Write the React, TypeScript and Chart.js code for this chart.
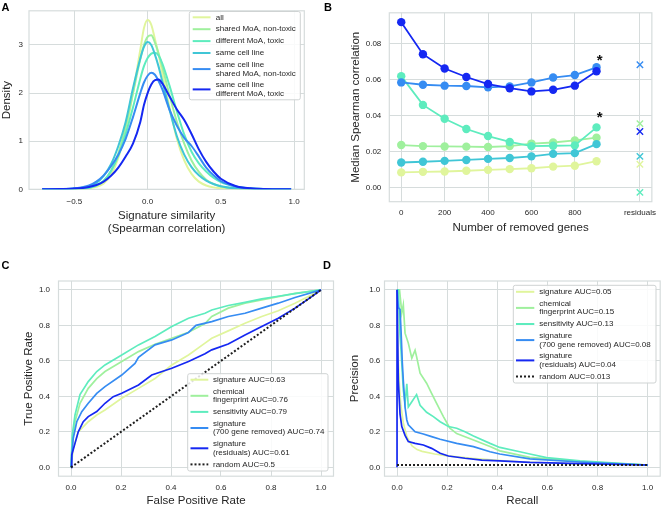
import React, { useEffect, useRef } from 'react';
import { Chart, registerables } from 'chart.js';

Chart.register(...registerables);

const FONT = "'Liberation Sans', Arial, Helvetica, sans-serif";
Chart.defaults.font.family = FONT;
Chart.defaults.color = '#262626';

const TEXT = '#262626';
const GRID = '#d6dcdc';
const COLORS = ['#e0f59c', '#9ff09d', '#5eecbe', '#40c6d6', '#368cf2', '#1528f2'];
const RANDOM_COLOR = '#1e1e1e';
const TICK_SIZE = 8;

// ---------------- Panel A : density of signature similarity ----------------
const KDE_X = [-0.72, -0.6, -0.5, -0.4, -0.35, -0.3, -0.25, -0.2, -0.15, -0.1, -0.05, -0.025, 0, 0.025, 0.05, 0.075, 0.1, 0.15, 0.2, 0.25, 0.3, 0.35, 0.4, 0.45, 0.5, 0.6, 0.7, 0.8, 0.98];
const KDE_ALL = [0, 0.001, 0.003, 0.02, 0.05, 0.12, 0.3, 0.65, 1.2, 2.0, 2.9, 3.35, 3.52, 3.42, 3.12, 2.8, 2.42, 1.7, 1.05, 0.6, 0.32, 0.16, 0.08, 0.04, 0.02, 0.005, 0.002, 0.001, 0];
const KDE_SHARED = [0, 0.001, 0.005, 0.03, 0.07, 0.17, 0.38, 0.75, 1.3, 2.0, 2.7, 3.0, 3.17, 3.2, 3.05, 2.82, 2.55, 1.95, 1.4, 0.95, 0.6, 0.36, 0.2, 0.11, 0.06, 0.015, 0.004, 0.001, 0];
const KDE_DIFF = [0, 0.001, 0.005, 0.03, 0.08, 0.18, 0.38, 0.7, 1.15, 1.7, 2.3, 2.56, 2.73, 2.82, 2.84, 2.78, 2.62, 2.15, 1.62, 1.14, 0.78, 0.54, 0.37, 0.24, 0.15, 0.06, 0.02, 0.005, 0];
const KDE_SAME = [0, 0.003, 0.015, 0.06, 0.13, 0.28, 0.52, 0.9, 1.4, 2.1, 2.72, 2.96, 3.06, 3.0, 2.8, 2.55, 2.25, 1.65, 1.1, 0.72, 0.46, 0.29, 0.18, 0.11, 0.065, 0.022, 0.007, 0.002, 0];
const KDE_SAME_SHARED = [0, 0.005, 0.02, 0.08, 0.16, 0.29, 0.48, 0.72, 1.05, 1.5, 2.0, 2.22, 2.36, 2.42, 2.38, 2.25, 2.08, 1.65, 1.32, 1.07, 0.9, 0.68, 0.45, 0.29, 0.17, 0.06, 0.02, 0.006, 0];
const KDE_SAME_DIFF = [0, 0.004, 0.015, 0.05, 0.09, 0.16, 0.28, 0.45, 0.68, 0.95, 1.4, 1.75, 2.0, 2.18, 2.27, 2.28, 2.2, 1.93, 1.66, 1.44, 1.15, 0.83, 0.57, 0.37, 0.22, 0.07, 0.02, 0.005, 0];
const A_LABELS = ['all', 'shared MoA, non-toxic', 'different MoA, toxic', 'same cell line', 'same cell line\nshared MoA, non-toxic', 'same cell line\ndifferent MoA, toxic'];
const A_X_TICKS = [-0.5, 0, 0.5, 1.0];
const A_Y_TICKS = [0, 1, 2, 3];

// ---------------- Panel B : median Spearman correlation ----------------
const GENES_REMOVED = [0, 100, 200, 300, 400, 500, 600, 700, 800, 900];
const MED_ALL = [0.0086, 0.0089, 0.0091, 0.0095, 0.0100, 0.0104, 0.0109, 0.0118, 0.0123, 0.0148];
const MED_SHARED = [0.0238, 0.0232, 0.0230, 0.0229, 0.0227, 0.0232, 0.0246, 0.0252, 0.0264, 0.0279];
const MED_DIFF = [0.0621, 0.0461, 0.0384, 0.0327, 0.0288, 0.0255, 0.0232, 0.0234, 0.0236, 0.0336];
const MED_SAME = [0.0141, 0.0145, 0.0150, 0.0155, 0.0161, 0.0166, 0.0175, 0.0189, 0.0193, 0.0243];
const MED_SAME_SHARED = [0.0586, 0.0573, 0.0568, 0.0566, 0.0559, 0.0564, 0.0586, 0.0613, 0.0627, 0.0670];
const MED_SAME_DIFF = [0.0921, 0.0743, 0.0663, 0.0616, 0.0577, 0.0554, 0.0536, 0.0545, 0.0568, 0.0648];
const RESIDUALS_X = 1100;
const MED_RESIDUALS = [0.0131, 0.0357, -0.0025, 0.0175, 0.0684, 0.0313];
const B_X_TICKS = [0, 200, 400, 600, 800, 1100];
const B_X_LABELS = ['0', '200', '400', '600', '800', 'residuals'];
const B_Y_TICKS = [0, 0.02, 0.04, 0.06, 0.08];
const STAR_X = [915, 915];
const STAR_Y = [0.0722, 0.0407];

// ---------------- Panel C : ROC ----------------
const ROC_SIG_FPR = [0, 0.009, 0.029, 0.069, 0.103, 0.136, 0.203, 0.27, 0.336, 0.403, 0.47, 0.536, 0.563, 0.629, 0.696, 0.763, 0.829, 0.896, 0.963, 1.0];
const ROC_SIG_TPR = [0, 0.107, 0.2, 0.257, 0.295, 0.323, 0.389, 0.445, 0.5, 0.577, 0.633, 0.7, 0.727, 0.769, 0.812, 0.85, 0.882, 0.925, 0.972, 1.0];
const ROC_CHEM_FPR = [0, 0.005, 0.016, 0.036, 0.069, 0.103, 0.136, 0.203, 0.27, 0.336, 0.403, 0.47, 0.536, 0.563, 0.629, 0.696, 0.763, 0.829, 0.896, 1.0];
const ROC_CHEM_TPR = [0, 0.15, 0.257, 0.361, 0.445, 0.5, 0.54, 0.596, 0.652, 0.694, 0.727, 0.761, 0.81, 0.85, 0.897, 0.925, 0.944, 0.962, 0.98, 1.0];
const ROC_SENS_FPR = [0, 0.005, 0.016, 0.036, 0.069, 0.103, 0.136, 0.203, 0.27, 0.336, 0.403, 0.47, 0.536, 0.563, 0.629, 0.696, 0.763, 0.829, 0.896, 1.0];
const ROC_SENS_TPR = [0, 0.18, 0.295, 0.41, 0.483, 0.54, 0.577, 0.633, 0.69, 0.737, 0.793, 0.84, 0.868, 0.887, 0.912, 0.93, 0.949, 0.964, 0.979, 1.0];
const ROC_700_FPR = [0, 0.009, 0.023, 0.043, 0.069, 0.103, 0.136, 0.203, 0.256, 0.27, 0.336, 0.403, 0.47, 0.5, 0.563, 0.629, 0.696, 0.763, 0.829, 0.896, 1.0];
const ROC_700_TPR = [0, 0.164, 0.257, 0.314, 0.361, 0.417, 0.455, 0.52, 0.586, 0.62, 0.69, 0.718, 0.76, 0.8, 0.821, 0.85, 0.868, 0.897, 0.925, 0.957, 1.0];
const ROC_RES_FPR = [0, 0.003, 0.016, 0.029, 0.049, 0.069, 0.103, 0.136, 0.169, 0.203, 0.27, 0.323, 0.403, 0.47, 0.536, 0.563, 0.629, 0.696, 0.763, 0.829, 0.896, 0.963, 1.0];
const ROC_RES_TPR = [0, 0.07, 0.135, 0.2, 0.257, 0.286, 0.314, 0.361, 0.398, 0.417, 0.464, 0.52, 0.558, 0.596, 0.64, 0.662, 0.695, 0.746, 0.793, 0.84, 0.897, 0.962, 1.0];
const ROC_RANDOM_FPR = [0, 1];
const ROC_RANDOM_TPR = [0, 1];
const C_LABELS = ['signature AUC=0.63', 'chemical\nfingerprint AUC=0.76', 'sensitivity AUC=0.79', 'signature\n(700 gene removed) AUC=0.74', 'signature\n(residuals) AUC=0.61', 'random AUC=0.5'];

// ---------------- Panel D : precision-recall ----------------
const PR_SIG_REC = [0, 0.005, 0.01, 0.015, 0.025, 0.04, 0.06, 0.08, 0.1, 0.15, 0.2, 0.3, 0.4, 0.5, 0.7, 1.0];
const PR_SIG_PREC = [1.0, 0.6, 0.45, 0.35, 0.25, 0.17, 0.12, 0.1, 0.09, 0.075, 0.065, 0.05, 0.04, 0.03, 0.02, 0.013];
const PR_CHEM_REC = [0, 0.01, 0.019, 0.025, 0.032, 0.045, 0.059, 0.072, 0.078, 0.092, 0.118, 0.138, 0.158, 0.185, 0.211, 0.238, 0.305, 0.371, 0.41, 0.53, 0.73, 1.0];
const PR_CHEM_PREC = [1.0, 1.0, 0.87, 0.915, 0.756, 0.70, 0.615, 0.66, 0.624, 0.53, 0.474, 0.417, 0.36, 0.286, 0.22, 0.19, 0.154, 0.117, 0.093, 0.056, 0.032, 0.013];
const PR_SENS_REC = [0, 0.005, 0.012, 0.019, 0.025, 0.032, 0.039, 0.045, 0.059, 0.078, 0.092, 0.118, 0.145, 0.172, 0.205, 0.238, 0.271, 0.305, 0.371, 0.41, 0.49, 0.53, 0.597, 0.73, 1.0];
const PR_SENS_PREC = [1.0, 1.0, 0.75, 0.586, 0.436, 0.36, 0.47, 0.34, 0.37, 0.41, 0.35, 0.31, 0.286, 0.257, 0.23, 0.22, 0.2, 0.177, 0.135, 0.112, 0.088, 0.075, 0.055, 0.036, 0.013];
const PR_700_REC = [0, 0.005, 0.012, 0.016, 0.021, 0.025, 0.032, 0.039, 0.045, 0.072, 0.105, 0.138, 0.172, 0.238, 0.305, 0.371, 0.41, 0.53, 0.73, 1.0];
const PR_700_PREC = [1.0, 0.9, 0.89, 0.77, 0.59, 0.49, 0.34, 0.267, 0.24, 0.2, 0.188, 0.173, 0.158, 0.135, 0.117, 0.088, 0.075, 0.048, 0.03, 0.013];
const PR_RES_REC = [0, 0, 0.005, 0.012, 0.019, 0.032, 0.045, 0.072, 0.105, 0.138, 0.172, 0.205, 0.271, 0.338, 0.41, 0.53, 0.73, 1.0];
const PR_RES_PREC = [0.0, 1.0, 0.49, 0.3, 0.23, 0.18, 0.145, 0.135, 0.126, 0.107, 0.079, 0.064, 0.051, 0.041, 0.036, 0.028, 0.021, 0.013];
const PR_RANDOM_REC = [0, 1];
const PR_RANDOM_PREC = [0.013, 0.013];
const D_LABELS = ['signature AUC=0.05', 'chemical\nfingerprint AUC=0.15', 'sensitivity AUC=0.13', 'signature\n(700 gene removed) AUC=0.08', 'signature\n(residuals) AUC=0.04', 'random AUC=0.013'];

const UNIT_TICKS = [0, 0.2, 0.4, 0.6, 0.8, 1.0];

// ---------------- helpers ----------------
const pts = (xs: number[], ys: number[]) => xs.map((x, i) => ({ x, y: ys[i] }));
const fmt1 = (v: number) => (v < 0 ? '\u2212' + Math.abs(v).toFixed(1) : v.toFixed(1));

function linAxis(o: any) {
  return {
    type: 'linear',
    min: o.min,
    max: o.max,
    afterBuildTicks: (s: any) => {
      s.ticks = o.ticks.map((v: number) => ({ value: v }));
    },
    afterFit: (s: any) => {
      if (o.horizontal) s.height = o.size;
      else s.width = o.size;
    },
    grid: { color: GRID, lineWidth: 1, drawTicks: false },
    border: { display: false },
    ticks: {
      padding: o.tickPad,
      color: TEXT,
      font: { size: TICK_SIZE, family: FONT },
      autoSkip: false,
      maxRotation: 0,
      callback: (v: any) => o.fmt(Number(v)),
    },
    title: {
      display: true,
      text: o.title,
      color: TEXT,
      font: { size: 11.5, family: FONT, lineHeight: o.titleLH ?? 1.2 },
      padding: o.titlePad,
    },
  };
}

const framePlugin = {
  id: 'frame',
  beforeDatasetsDraw(chart: any) {
    const { left, top, right, bottom } = chart.chartArea;
    const ctx = chart.ctx;
    ctx.save();
    ctx.strokeStyle = GRID;
    ctx.lineWidth = 1.2;
    ctx.strokeRect(left, top, right - left, bottom - top);
    ctx.restore();
  },
};

const LEG_LH = 8.4;
const LEG_GAP = 3.5;

function makeLegend(L: { x: number; y: number; w: number; h: number; hx1: number; hx2: number; tx: number; first: number }) {
  return {
    id: 'boxLegend',
    afterDraw(chart: any) {
      const ctx = chart.ctx;
      ctx.save();
      ctx.beginPath();
      if (ctx.roundRect) ctx.roundRect(L.x, L.y, L.w, L.h, 2);
      else ctx.rect(L.x, L.y, L.w, L.h);
      ctx.fillStyle = 'rgba(255,255,255,0.85)';
      ctx.fill();
      ctx.strokeStyle = '#cfd3d3';
      ctx.lineWidth = 1;
      ctx.stroke();
      ctx.font = `8px ${FONT}`;
      ctx.textBaseline = 'middle';
      ctx.textAlign = 'left';
      let cy = L.y + L.first;
      chart.data.datasets.forEach((ds: any) => {
        if (!ds.label || ds.noLegend) return;
        const lines = String(ds.label).split('\n');
        const mid = cy + ((lines.length - 1) * LEG_LH) / 2;
        ctx.beginPath();
        ctx.setLineDash(ds.borderDash || []);
        ctx.strokeStyle = ds.borderColor;
        ctx.lineWidth = 2;
        ctx.moveTo(L.hx1, mid);
        ctx.lineTo(L.hx2, mid);
        ctx.stroke();
        ctx.setLineDash([]);
        ctx.fillStyle = TEXT;
        lines.forEach((t, i) => ctx.fillText(t, L.tx, cy + i * LEG_LH));
        cy += (lines.length - 1) * LEG_LH + LEG_LH + LEG_GAP;
      });
      ctx.restore();
    },
  };
}

const starPlugin = {
  id: 'stars',
  afterDatasetsDraw(chart: any) {
    const ctx = chart.ctx;
    const xs = chart.scales.x;
    const ys = chart.scales.y;
    ctx.save();
    ctx.font = `bold 15px ${FONT}`;
    ctx.fillStyle = '#111';
    ctx.textAlign = 'center';
    ctx.textBaseline = 'middle';
    STAR_X.forEach((x, i) => {
      ctx.fillText('*', xs.getPixelForValue(x), ys.getPixelForValue(STAR_Y[i]) + 3.4);
    });
    ctx.restore();
  },
};

const baseOptions = (padding: any, scales: any) => ({
  responsive: false,
  maintainAspectRatio: false,
  animation: false,
  events: [],
  layout: { padding },
  plugins: { legend: { display: false }, tooltip: { enabled: false } },
  scales,
});

// ---------------- chart configs ----------------
function configA() {
  const series = [KDE_ALL, KDE_SHARED, KDE_DIFF, KDE_SAME, KDE_SAME_SHARED, KDE_SAME_DIFF];
  return {
    type: 'line',
    data: {
      datasets: series.map((s, i) => ({
        label: A_LABELS[i],
        data: pts(KDE_X, s),
        borderColor: COLORS[i],
        borderWidth: 2,
        pointRadius: 0,
        fill: false,
        cubicInterpolationMode: 'monotone',
        order: 10 - i,
      })),
    },
    options: baseOptions({ top: 7, right: 26.7, left: 0, bottom: 0 }, {
      x: linAxis({ min: -0.81, max: 1.07, ticks: A_X_TICKS, fmt: fmt1, title: ['Signature similarity', '(Spearman correlation)'], titleLH: 1.07, titlePad: { top: 0, bottom: 18.5 }, tickPad: 7.6, size: 63.7, horizontal: true }),
      y: linAxis({ min: 0, max: 3.71, ticks: A_Y_TICKS, fmt: (v: number) => String(Math.round(v)), title: 'Density', titlePad: { top: 0, bottom: 0 }, tickPad: 6, size: 29, horizontal: false }),
    }),
    plugins: [framePlugin, makeLegend({ x: 189.3, y: 11.5, w: 111, h: 88.3, hx1: 192.7, hx2: 210.5, tx: 215.7, first: 5.8 })],
  };
}

function configB() {
  const series = [MED_ALL, MED_SHARED, MED_DIFF, MED_SAME, MED_SAME_SHARED, MED_SAME_DIFF];
  const lines = series.map((s, i) => ({
    label: A_LABELS[i],
    data: pts(GENES_REMOVED, s),
    borderColor: COLORS[i],
    backgroundColor: COLORS[i],
    borderWidth: 1.8,
    pointRadius: 4.2,
    pointBorderWidth: 0,
    pointBackgroundColor: COLORS[i],
    fill: false,
    order: 20 - i,
  }));
  const crosses = MED_RESIDUALS.map((v, i) => ({
    label: A_LABELS[i] + ' (residuals)',
    data: [{ x: RESIDUALS_X, y: v }],
    showLine: false,
    borderColor: COLORS[i],
    pointStyle: 'crossRot',
    pointRadius: 4.5,
    pointBorderWidth: 1.4,
    pointBorderColor: COLORS[i],
    order: 10 - i,
  }));
  return {
    type: 'line',
    data: { datasets: [...lines, ...crosses] },
    options: baseOptions({ top: 6, right: 6, left: 0, bottom: 0 }, {
      x: linAxis({ min: -55, max: 1155, ticks: B_X_TICKS, fmt: (v: number) => B_X_LABELS[B_X_TICKS.indexOf(v)] ?? String(v), title: 'Number of removed genes', titlePad: { top: 0, bottom: 18.4 }, tickPad: 5.8, size: 51.3, horizontal: true }),
      y: linAxis({ min: -0.0077, max: 0.0973, ticks: B_Y_TICKS, fmt: (v: number) => v.toFixed(2), title: 'Median Spearman correlation', titlePad: { top: 18.1, bottom: 0 }, tickPad: 8, size: 58.3, horizontal: false }),
    }),
    plugins: [framePlugin, starPlugin],
  };
}

function curveSets(labels: string[], xsList: number[][], ysList: number[][]) {
  const colorIdx = [0, 1, 2, 4, 5];
  return xsList.map((xs, i) => {
    const isRandom = i === xsList.length - 1;
    return {
      label: labels[i],
      data: pts(xs, ysList[i]),
      borderColor: isRandom ? RANDOM_COLOR : COLORS[colorIdx[i]],
      borderWidth: isRandom ? 2 : 1.7,
      borderDash: isRandom ? [2, 2] : [],
      pointRadius: 0,
      fill: false,
      order: 10 - i,
    };
  });
}

function configC() {
  return {
    type: 'line',
    data: {
      datasets: curveSets(
        C_LABELS,
        [ROC_SIG_FPR, ROC_CHEM_FPR, ROC_SENS_FPR, ROC_700_FPR, ROC_RES_FPR, ROC_RANDOM_FPR],
        [ROC_SIG_TPR, ROC_CHEM_TPR, ROC_SENS_TPR, ROC_700_TPR, ROC_RES_TPR, ROC_RANDOM_TPR],
      ),
    },
    options: baseOptions({ top: 28, right: 6.5, left: 0, bottom: 0 }, {
      x: linAxis({ min: -0.05, max: 1.05, ticks: UNIT_TICKS, fmt: fmt1, title: 'False Positive Rate', titlePad: { top: 0, bottom: 2.8 }, tickPad: 7, size: 34.8, horizontal: true }),
      y: linAxis({ min: -0.05, max: 1.05, ticks: UNIT_TICKS, fmt: fmt1, title: 'True Positive Rate', titlePad: { top: 22.4, bottom: 0 }, tickPad: 8.5, size: 58.5, horizontal: false }),
    }),
    plugins: [framePlugin, makeLegend({ x: 187.7, y: 120.7, w: 140.3, h: 97.3, hx1: 190.5, hx2: 208.3, tx: 213, first: 6 })],
  };
}

function configD() {
  return {
    type: 'line',
    data: {
      datasets: curveSets(
        D_LABELS,
        [PR_SIG_REC, PR_CHEM_REC, PR_SENS_REC, PR_700_REC, PR_RES_REC, PR_RANDOM_REC],
        [PR_SIG_PREC, PR_CHEM_PREC, PR_SENS_PREC, PR_700_PREC, PR_RES_PREC, PR_RANDOM_PREC],
      ),
    },
    options: baseOptions({ top: 28, right: 1.8, left: 0, bottom: 0 }, {
      x: linAxis({ min: -0.05, max: 1.05, ticks: UNIT_TICKS, fmt: fmt1, title: 'Recall', titlePad: { top: 0, bottom: 2.8 }, tickPad: 7, size: 34.8, horizontal: true }),
      y: linAxis({ min: -0.05, max: 1.05, ticks: UNIT_TICKS, fmt: fmt1, title: 'Precision', titlePad: { top: 17.1, bottom: 0 }, tickPad: 4.2, size: 53.5, horizontal: false }),
    }),
    plugins: [framePlugin, makeLegend({ x: 182.3, y: 32.3, w: 142.7, h: 97.7, hx1: 185, hx2: 203.3, tx: 208.3, first: 6.5 })],
  };
}

function Panel({ left, top, width, height, make }: { left: number; top: number; width: number; height: number; make: () => any }) {
  const ref = useRef<HTMLCanvasElement | null>(null);
  useEffect(() => {
    const chart = new Chart(ref.current as HTMLCanvasElement, make());
    return () => chart.destroy();
  }, []);
  return (
    <canvas
      ref={ref}
      width={width}
      height={height}
      style={{ position: 'absolute', left, top, width, height, display: 'block' }}
    />
  );
}

const labelStyle = (left: number, top: number): React.CSSProperties => ({
  position: 'absolute',
  left,
  top,
  font: `bold 11px ${FONT}`,
  lineHeight: '11px',
  color: '#000',
});

export default function App() {
  return (
    <div style={{ position: 'fixed', left: 0, top: 0, width: 662, height: 506, overflow: 'hidden', background: '#fff' }}>
      <Panel left={0} top={0} width={331} height={253} make={configA} />
      <Panel left={331} top={0} width={331} height={253} make={configB} />
      <Panel left={0} top={253} width={340} height={258} make={configC} />
      <Panel left={331} top={253} width={331} height={258} make={configD} />
      <div style={labelStyle(1.5, 2)}>A</div>
      <div style={labelStyle(324, 2)}>B</div>
      <div style={labelStyle(1.5, 260)}>C</div>
      <div style={labelStyle(323, 260)}>D</div>
    </div>
  );
}
